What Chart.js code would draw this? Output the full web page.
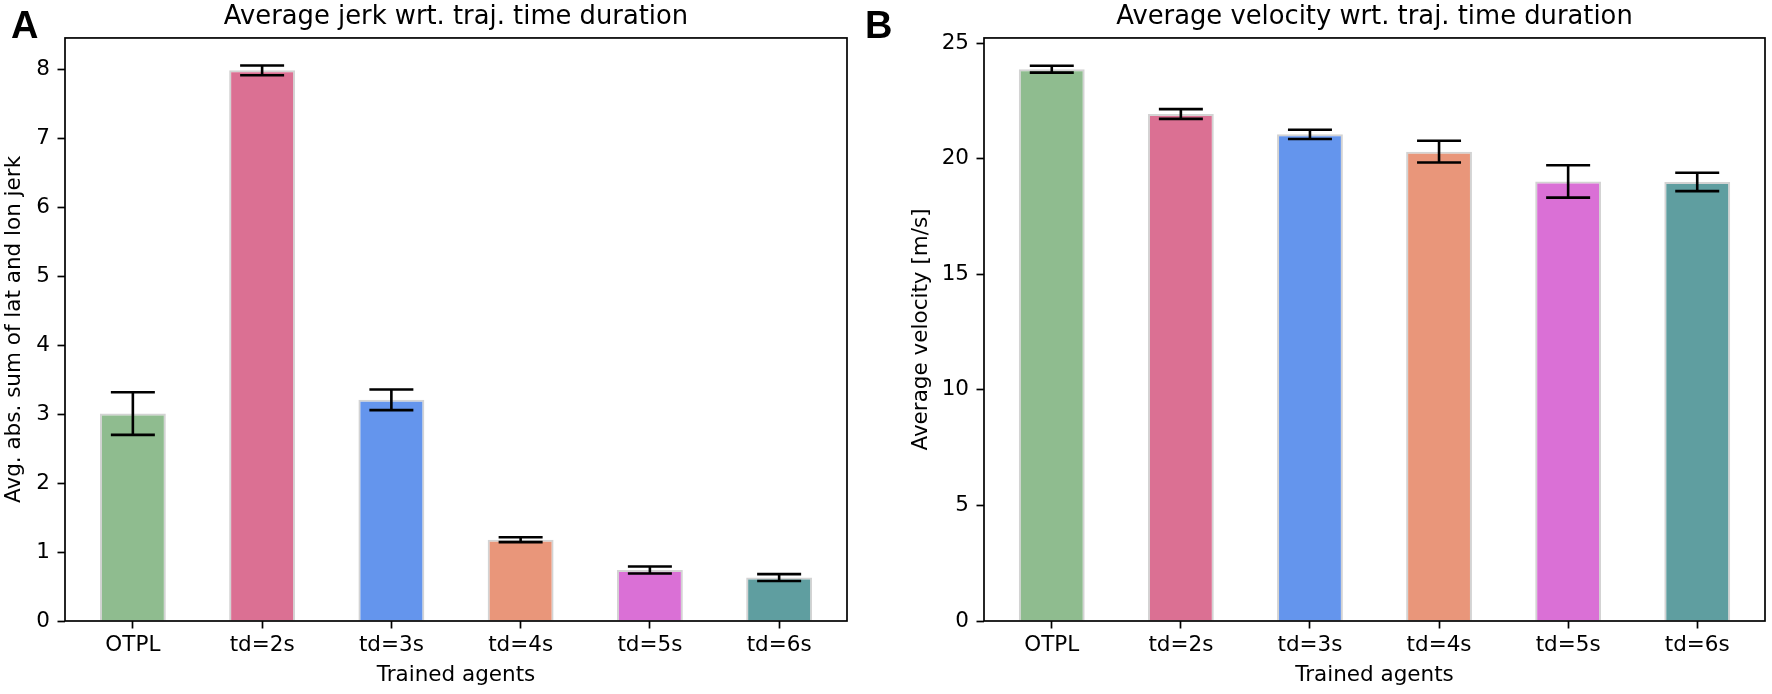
<!DOCTYPE html>
<html>
<head>
<meta charset="utf-8">
<script src="https://cdn.jsdelivr.net/npm/chart.js@4.4.0/dist/chart.umd.min.js"></script>
<style>
  html, body { margin: 0; padding: 0; background: #fff; }
  body { width: 1772px; height: 694px; position: relative; overflow: hidden; }
  #cA { position: absolute; left: 0; top: 0; }
  #cB { position: absolute; left: 880px; top: 0; }
  .panel { position: absolute; font-family: "Liberation Sans", Arial, sans-serif; font-weight: bold; font-size: 38px; line-height: 38px; color: #000; }
</style>
</head>
<body>
<canvas id="cA" width="860" height="694"></canvas>
<canvas id="cB" width="892" height="694"></canvas>
<div class="panel" style="left:11px; top:6px;">A</div>
<div class="panel" style="left:865px; top:6px;">B</div>
<script>
// ---- data ----
const categories = ['OTPL', 'td=2s', 'td=3s', 'td=4s', 'td=5s', 'td=6s'];
const barColors = ['#8FBC8F', '#DB7093', '#6495ED', '#E9967A', '#DA70D6', '#5F9EA0'];
const jerkMean = [3.01, 7.99, 3.21, 1.18, 0.74, 0.63];
const jerkErr  = [0.31, 0.07, 0.15, 0.035, 0.05, 0.05];
const velMean  = [23.88, 21.94, 21.06, 20.31, 19.02, 19.00];
const velErr   = [0.15, 0.21, 0.20, 0.47, 0.70, 0.40];
const jerkTicks = [0, 1, 2, 3, 4, 5, 6, 7, 8];
const velTicks = [0, 5, 10, 15, 20, 25];
const xTicks = [0, 1, 2, 3, 4, 5];

Chart.defaults.font.family = "'DejaVu Sans', sans-serif";
Chart.defaults.color = '#000';

const frameAndErrors = {
  id: 'frameAndErrors',
  afterDatasetsDraw(chart) {
    const ctx = chart.ctx;
    const xs = chart.scales.x, ys = chart.scales.y;
    const ds = chart.data.datasets[0];
    ctx.save();
    ctx.strokeStyle = '#000';
    ctx.lineWidth = 2.6;
    ds.data.forEach((pt, i) => {
      const e = ds.errors[i];
      const x = xs.getPixelForValue(pt.x);
      const yt = ys.getPixelForValue(pt.y + e);
      const yb = ys.getPixelForValue(pt.y - e);
      ctx.beginPath();
      ctx.moveTo(x, yt); ctx.lineTo(x, yb);
      ctx.moveTo(x - 22, yt); ctx.lineTo(x + 22, yt);
      ctx.moveTo(x - 22, yb); ctx.lineTo(x + 22, yb);
      ctx.stroke();
    });
    const a = chart.chartArea;
    ctx.lineWidth = 1.7;
    ctx.strokeRect(a.left, a.top, a.right - a.left, a.bottom - a.top);
    ctx.restore();
  }
};

function makeChart(id, title, yTitle, means, errs, yMax, yTicks, yAxisWidth, yTitlePad, rightPad) {
  return new Chart(document.getElementById(id), {
    type: 'bar',
    data: {
      datasets: [{
        data: means.map((v, i) => ({ x: i, y: v })),
        errors: errs,
        backgroundColor: barColors,
        borderColor: '#d3d3d3',
        borderWidth: 2,
        barPercentage: 0.51,
        categoryPercentage: 1.0
      }]
    },
    plugins: [frameAndErrors],
    options: {
      responsive: false,
      animation: false,
      devicePixelRatio: 1,
      layout: { padding: { left: 0, right: rightPad, top: 0, bottom: 0 } },
      plugins: {
        legend: { display: false },
        tooltip: { enabled: false },
        title: {
          display: true,
          text: title,
          fullSize: false,
          color: '#000',
          font: { size: 25.8, weight: 'normal', lineHeight: 1.2 },
          padding: { top: 1.5, bottom: 5.5 }
        }
      },
      scales: {
        x: {
          type: 'linear',
          min: -0.525,
          max: 5.525,
          offset: false,
          afterBuildTicks: (s) => { s.ticks = xTicks.map(v => ({ value: v })); },
          afterFit: (s) => { s.height = 73; },
          ticks: {
            autoSkip: false, maxRotation: 0, minRotation: 0,
            padding: 4.3,
            font: { size: 21.5, lineHeight: 1.2 },
            callback: (v) => categories[v]
          },
          grid: { display: true, drawOnChartArea: false, drawTicks: true, tickLength: 7.5, tickWidth: 1.7, tickColor: '#000', color: '#000', offset: false },
          border: { display: false },
          title: { display: true, text: 'Trained agents', font: { size: 21.5, lineHeight: 1.2 }, padding: { top: 0, bottom: 5.4 } }
        },
        y: {
          min: 0,
          max: yMax,
          afterBuildTicks: (s) => { s.ticks = yTicks.map(v => ({ value: v })); },
          afterFit: (s) => { s.width = yAxisWidth; },
          ticks: { padding: 7.5, font: { size: 21.5, lineHeight: 1.2 } },
          grid: { display: true, drawOnChartArea: false, drawTicks: true, tickLength: 7.5, tickWidth: 1.7, tickColor: '#000', color: '#000' },
          border: { display: false },
          title: { display: true, text: yTitle, font: { size: 21.5, lineHeight: 1.2 }, padding: { top: yTitlePad, bottom: 0 } }
        }
      }
    }
  });
}

makeChart('cA', 'Average jerk wrt. traj. time duration', 'Avg. abs. sum of lat and lon jerk',
  jerkMean, jerkErr, 8.46, jerkTicks, 65, 1.1, 13);
makeChart('cB', 'Average velocity wrt. traj. time duration', 'Average velocity [m/s]',
  velMean, velErr, 25.23, velTicks, 104, 29, 7);
</script>
</body>
</html>
